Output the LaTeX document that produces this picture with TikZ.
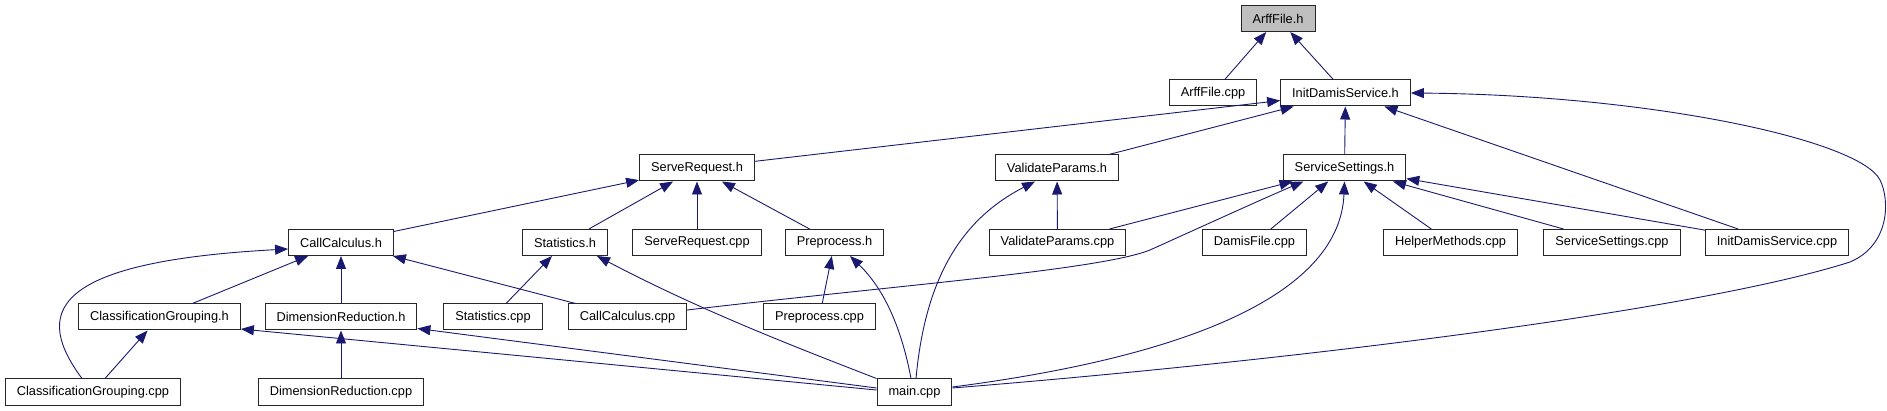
\documentclass[tikz,border=0pt]{standalone}
\usepackage{fontspec}
\setmainfont{Liberation Sans}
\usepackage{tikz}
\usetikzlibrary{
  arrows.meta,
  positioning,
  calc
}
\definecolor{edgeblue}{RGB}{25,25,112}
\definecolor{rootgray}{RGB}{191,191,191}
\tikzset{
  filebox/.style={
    draw=black!85,
    line width=1pt,
    fill=white,
    minimum height=26pt,
    inner xsep=11.5pt,
    inner ysep=0pt,
    font=\fontsize{12.8pt}{14pt}\selectfont
  },
  rootbox/.style={filebox,fill=rootgray},
  inclarrow/.style={-{Triangle[length=13pt,width=10pt]},line width=0.9pt,draw=edgeblue}
}

\begin{document}
\begin{tikzpicture}[x=1pt,y=-1pt]
  \useasboundingbox (0,0) rectangle (1887,411);

  % rank 0 and 1
  \node[rootbox] (arffh) at (1278,18.5) {ArffFile.h};
  \node[filebox] (arffcpp) at (1213,93) {ArffFile.cpp};
  \node[filebox] (initdh) at (1345.5,93) {InitDamisService.h};

  % rank 2
  \node[filebox] (serveh) at (697,168) {ServeRequest.h};
  \node[filebox] (validh) at (1057,168) {ValidateParams.h};
  \node[filebox] (servsh) at (1344.5,168) {ServiceSettings.h};

  % rank 3
  \node[filebox] (callh) at (341,242.5) {CallCalculus.h};
  \node[filebox] (stath) at (565,242.5) {Statistics.h};
  \node[filebox] (servecpp) at (697,242.5) {ServeRequest.cpp};
  \node[filebox] (preh) at (834.5,242.5) {Preprocess.h};
  \node[filebox] (validcpp) at (1057.5,242.5) {ValidateParams.cpp};
  \node[filebox] (damiscpp) at (1254.5,242.5) {DamisFile.cpp};
  \node[filebox] (helpcpp) at (1450.5,242.5) {HelperMethods.cpp};
  \node[filebox] (servscpp) at (1612,242.5) {ServiceSettings.cpp};
  \node[filebox] (initdcpp) at (1777,242.5) {InitDamisService.cpp};

  % rank 4
  \node[filebox] (classh) at (159.5,317) {ClassificationGrouping.h};
  \node[filebox] (dimh) at (341,317) {DimensionReduction.h};
  \node[filebox] (statcpp) at (493,317) {Statistics.cpp};
  \node[filebox] (callcpp) at (627.5,317) {CallCalculus.cpp};
  \node[filebox] (precpp) at (819.5,317) {Preprocess.cpp};

  % rank 5
  \node[filebox] (classcpp) at (93,392) {ClassificationGrouping.cpp};
  \node[filebox] (dimcpp) at (341,392) {DimensionReduction.cpp};
  \node[filebox] (maincpp) at (914.5,392) {main.cpp};

  % straight includes
  \foreach \from/\to in {arffcpp/arffh,initdh/arffh,
      serveh/initdh,validh/initdh,servsh/initdh,initdcpp/initdh,
      callh/serveh,stath/serveh,servecpp/serveh,preh/serveh,
      validcpp/validh,validcpp/servsh,damiscpp/servsh,helpcpp/servsh,
      servscpp/servsh,initdcpp/servsh,
      classh/callh,dimh/callh,callcpp/callh,statcpp/stath,precpp/preh,
      classcpp/classh,dimcpp/dimh}
    \draw[inclarrow] (\from) -- (\to);
  \draw[inclarrow] ([yshift=2pt]maincpp.west) -- ([yshift=1.5pt]classh.south east);
  \draw[inclarrow] ([yshift=4pt]maincpp.west) -- ([yshift=2pt]dimh.south east);

  % curved includes
  \draw[inclarrow] ([xshift=-11pt]classcpp.north) .. controls (35,315) and (45,262) .. ([yshift=-6.5pt]callh.west);
  \draw[inclarrow] (maincpp.north west) .. controls (790,345) and (700,310) .. ([xshift=32pt]stath.south);
  \draw[inclarrow] ([xshift=-3.5pt]maincpp.north) .. controls (900,320) and (880,285) .. ([xshift=15.5pt]preh.south);
  \draw[inclarrow] ([xshift=1.5pt]maincpp.north) .. controls (925,280) and (960,220) .. ([xshift=-22pt]validh.south);
  \draw[inclarrow] ([yshift=5pt]maincpp.east) .. controls (1200,355) and (1340,290) .. (servsh.south);
  \draw[inclarrow] ([yshift=4pt]maincpp.east) .. controls (1300,360) and (1700,310) .. (1850,262)
    .. controls (1890,245) and (1890,200) .. (1880,180)
    .. controls (1860,140) and (1650,95) .. (initdh.east);
  \draw[inclarrow] ([yshift=7pt]callcpp.east) .. controls (900,285) and (1100,270) .. (1150,250)
    .. controls (1190,232) and (1260,200) .. ([xshift=-41pt]servsh.south);
\end{tikzpicture}
\end{document}
